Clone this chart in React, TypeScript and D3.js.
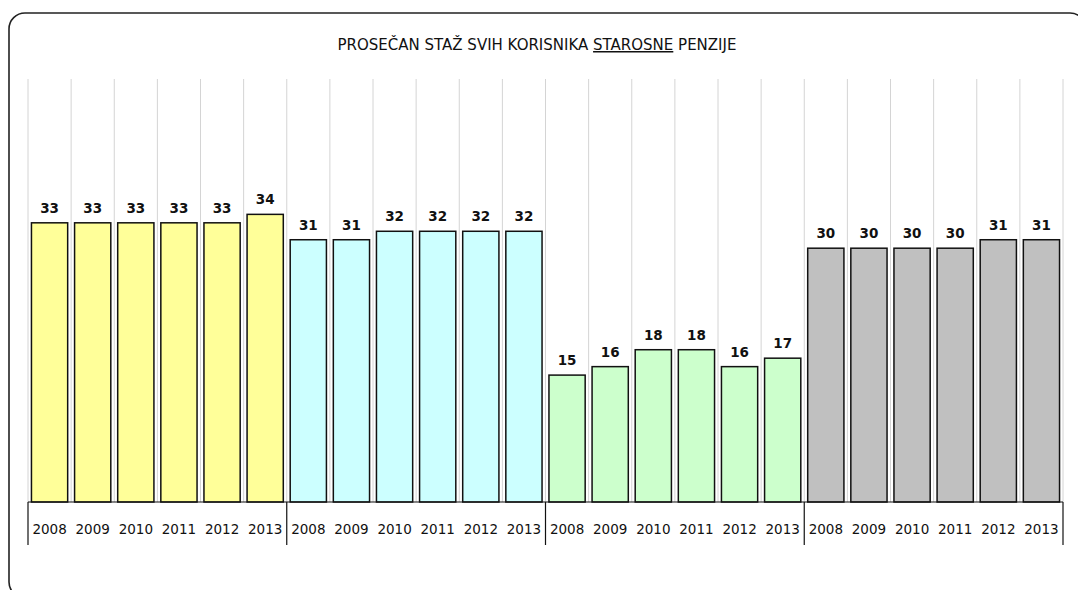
import React from "react";
import * as d3 from "d3";

const years = ["2008", "2009", "2010", "2011", "2012", "2013"];
const groupColors = ["#FFFF99", "#CCFFFF", "#CCFFCC", "#C0C0C0"];
const group1 = [33, 33, 33, 33, 33, 34];
const group2 = [31, 31, 32, 32, 32, 32];
const group3 = [15, 16, 18, 18, 16, 17];
const group4 = [30, 30, 30, 30, 31, 31];
const groups = [group1, group2, group3, group4];
const yMax = 50;

const W = 1078;
const H = 590;
const left = 28;
const right = 1063;
const top = 79;
const base = 502;

export default function App() {
  const items = groups.flatMap((g, gi) =>
    g.map((v, i) => ({ key: `${gi}-${i}`, gi, year: years[i], v }))
  );
  const x = d3
    .scaleBand<string>()
    .domain(items.map((d) => d.key))
    .range([left, right])
    .paddingInner(0.16)
    .paddingOuter(0.08);
  const step = x.step();
  const y = d3.scaleLinear().domain([0, yMax]).range([base, top]);
  const font = "'DejaVu Sans', sans-serif";
  const boundaries = d3.range(items.length + 1).map((i) => left + i * step);
  const groupBounds = d3.range(groups.length + 1).map((i) => left + i * years.length * step);

  return (
    <svg
      width={W}
      height={H}
      style={{ position: "absolute", left: 0, top: 0, background: "#fff" }}
    >
      <rect x={9} y={13} width={1077} height={585} rx={16} fill="#fff" stroke="#222" strokeWidth={1.6} />
      <text x={537} y={50} textAnchor="middle" fontFamily={font} fontSize={15} fill="#111">
        PROSEČAN STAŽ SVIH KORISNIKA{" "}
        <tspan textDecoration="underline">STAROSNE</tspan> PENZIJE
      </text>
      {boundaries.map((bx, i) => (
        <line key={i} x1={bx} x2={bx} y1={top} y2={base} stroke="#d4d4d4" strokeWidth={1} />
      ))}
      {items.map((d) => (
        <g key={d.key}>
          <rect
            x={x(d.key)!}
            y={y(d.v)}
            width={x.bandwidth()}
            height={base - y(d.v)}
            fill={groupColors[d.gi]}
            stroke="#111"
            strokeWidth={1.5}
          />
          <text
            x={x(d.key)! + x.bandwidth() / 2}
            y={y(d.v) - 10}
            textAnchor="middle"
            fontFamily={font}
            fontWeight="bold"
            fontSize={13.5}
            fill="#111"
          >
            {d.v}
          </text>
          <text
            x={x(d.key)! + x.bandwidth() / 2}
            y={534}
            textAnchor="middle"
            fontFamily={font}
            fontSize={13.5}
            fill="#111"
          >
            {d.year}
          </text>
        </g>
      ))}
      <line x1={left} x2={right} y1={base} y2={base} stroke="#111" strokeWidth={1.2} />
      {groupBounds.map((gx, i) => (
        <line key={i} x1={gx} x2={gx} y1={base} y2={545} stroke="#111" strokeWidth={1.2} />
      ))}
    </svg>
  );
}
